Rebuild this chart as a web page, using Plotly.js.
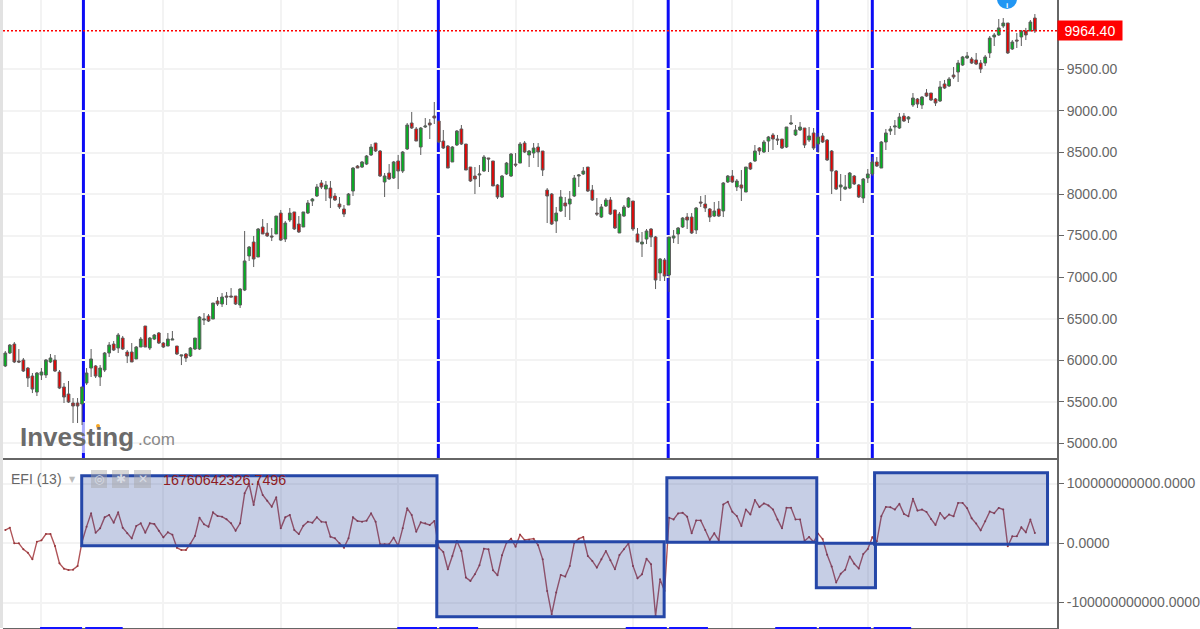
<!DOCTYPE html>
<html>
<head>
<meta charset="utf-8">
<script src="https://cdn.plot.ly/plotly-3.0.1.min.js"></script>
<style>html,body{margin:0;padding:0;background:#fff;overflow:hidden}#c{width:1200px;height:629px}</style>
</head>
<body>
<div id="c"></div>
<script>
const openPrices = [5930,6086,6194,5990,6002,5905,5809,5616,5821,5821,
5978,6002,5857,5677,5592,5484,5484,5472,5725,5905,
5930,5797,5881,6086,6194,6146,6266,6098,6098,6014,
6158,6411,6146,6254,6327,6206,6170,6242,6170,6050,
6074,6050,6134,6134,6483,6531,6495,6712,6676,6772,
6772,6772,6664,6844,7254,7422,7242,7603,7531,7495,
7519,7771,7458,7687,7784,7639,7603,7771,7916,7976,
8133,8060,8072,7976,7880,7820,7868,8036,8337,8325,
8361,8470,8614,8518,8145,8253,8193,8398,8277,8542,
8855,8783,8566,8807,8855,8939,8879,8638,8578,8386,
8590,8783,8602,8325,8217,8229,8277,8434,8398,8109,
7964,8241,8217,8361,8373,8614,8470,8494,8566,8518,
8048,8000,7675,7796,7892,7880,7976,8217,8241,8325,
8048,7771,7723,7856,7928,7808,7531,7735,7844,7916,
7519,7398,7458,7579,7483,7049,7206,7025,7470,7519,
7603,7723,7723,7567,7904,7880,7820,7735,7820,7796,
8145,8217,8085,8109,8024,8373,8398,8554,8506,8638,
8711,8662,8662,8566,8843,8711,8771,8795,8650,8735,
8602,8699,8650,8518,8277,8085,8060,8072,8217,8109,
7952,8193,8241,8386,8313,8626,8759,8807,8795,8939,
8903,9072,9144,9072,9216,9216,9144,9120,9325,9301,
9433,9469,9553,9638,9626,9614,9577,9577,9698,9891,
9915,10023,10059,9746,9854,9891,9963,9963,10119];
const highPrices = [6110,6194,6218,6134,6026,5917,5845,5857,5905,6014,
6074,6062,5881,5725,5749,5544,5544,5677,5905,6134,
5941,5941,6098,6218,6230,6327,6291,6122,6206,6170,
6279,6411,6279,6315,6339,6218,6327,6351,6170,6062,
6086,6158,6266,6531,6567,6555,6688,6760,6808,6820,
6868,6772,6868,7555,7374,7495,7591,7699,7651,7591,
7735,7808,7675,7832,7784,7735,7784,7928,7952,8121,
8169,8157,8157,8012,7964,7868,8012,8325,8349,8398,
8470,8602,8614,8530,8253,8361,8398,8470,8518,8855,
8988,8807,8807,8915,8903,9108,8879,8771,8590,8578,
8771,8831,8602,8325,8325,8349,8470,8434,8398,8121,
8229,8386,8494,8494,8626,8638,8530,8614,8614,8518,
8072,8012,7844,8048,7964,8036,8229,8241,8325,8325,
8109,7952,7880,7952,7964,7808,7784,7868,7964,7916,
7591,7543,7579,7591,7495,7230,7230,7483,7567,7603,
7723,7771,7771,7844,7976,7988,7832,7904,7916,8145,
8229,8289,8181,8289,8325,8386,8590,8566,8650,8699,
8735,8711,8662,8807,8951,8831,8867,8795,8807,8795,
8735,8735,8662,8530,8289,8241,8229,8265,8229,8121,
8193,8301,8446,8446,8638,8783,8819,8891,8975,8975,
8939,9216,9156,9180,9264,9216,9156,9361,9373,9409,
9529,9614,9662,9710,9650,9698,9614,9674,9903,9939,
10107,10119,10059,9854,9939,9975,10000,10095,10167];
const lowPrices = [5917,6074,5965,5965,5857,5677,5604,5568,5761,5785,
5965,5857,5652,5484,5484,5243,5243,5219,5701,5797,
5785,5689,5857,6038,6110,6086,6122,5965,5978,6014,
6158,6158,6122,6242,6194,6146,6170,6242,6062,5941,
5978,6038,6122,6122,6423,6459,6495,6652,6640,6664,
6760,6664,6628,6832,7194,7121,7242,7519,7483,7434,
7519,7434,7422,7663,7567,7531,7603,7759,7856,7964,
8060,7916,7832,7916,7820,7723,7868,7976,8313,8313,
8349,8458,8506,8205,7964,8169,8181,8060,8253,8530,
8783,8638,8470,8795,8662,8843,8614,8542,8313,8386,
8578,8590,8289,8145,8000,8085,8265,8265,8097,7940,
7952,8229,8205,8325,8373,8494,8325,8434,8325,8217,
7651,7627,7531,7784,7723,7687,7964,8085,8229,8024,
7916,7735,7711,7844,7747,7579,7531,7723,7832,7555,
7422,7242,7398,7362,6856,6953,6953,6820,7410,7398,
7591,7579,7519,7519,7844,7784,7663,7723,7723,7723,
8133,8133,8036,7916,8024,8289,8386,8470,8494,8506,
8530,8590,8542,8554,8831,8699,8759,8554,8626,8530,
8494,8614,8398,8000,8048,7916,8048,8060,8109,7952,
7892,8133,8217,8325,8313,8530,8711,8711,8783,8867,
8855,9048,9036,9024,9168,9120,9060,9108,9264,9289,
9385,9349,9541,9626,9565,9553,9457,9541,9638,9782,
9903,10000,9686,9734,9758,9782,9854,9963,9939];
const closePrices = [6086,6182,5978,5978,5869,5785,5652,5845,5857,6002,
6026,5869,5664,5556,5496,5448,5448,5677,5845,6014,
5809,5905,6086,6182,6122,6303,6134,6050,5978,6158,
6254,6158,6266,6303,6206,6158,6254,6254,6074,6062,
6026,6146,6266,6519,6495,6471,6688,6676,6760,6760,
6760,6676,6856,7194,7362,7218,7579,7519,7495,7483,
7735,7446,7651,7771,7579,7543,7784,7892,7940,8085,
8085,8109,7952,7928,7844,7759,8000,8313,8313,8386,
8458,8566,8518,8217,8217,8181,8386,8277,8506,8831,
8795,8638,8795,8819,8831,8915,8626,8554,8313,8566,
8759,8602,8289,8157,8181,8241,8446,8422,8097,7964,
8217,8373,8482,8349,8602,8506,8518,8554,8506,8289,
7976,7639,7771,7964,7856,7940,8193,8229,8277,8036,
7928,7759,7844,7928,7759,7591,7759,7844,7952,7579,
7422,7422,7555,7483,6965,7218,7013,7483,7495,7591,
7711,7687,7531,7832,7892,7832,7723,7796,7735,8133,
8217,8145,8157,8072,8325,8301,8518,8518,8626,8687,
8662,8650,8554,8807,8855,8771,8807,8590,8699,8554,
8687,8626,8410,8277,8060,8109,8085,8253,8121,7964,
8181,8241,8386,8337,8626,8735,8783,8819,8927,8879,
8927,9156,9084,9168,9180,9132,9096,9289,9276,9385,
9409,9577,9650,9662,9577,9565,9505,9650,9878,9915,
10000,10059,9698,9830,9842,9963,9915,10071,9964.4];
// EFI (13), in billions
const efiBillions = [21.8,25.8,-0.6,-0.6,-10.6,-16.2,-27.5,2.2,4.5,15.1,
15.1,-5,-34.2,-43.1,-45.4,-44.8,-38.7,2.2,27.5,49.9,
17.4,24.6,43.1,47.1,34.2,51.5,25.8,16.2,7.8,28.6,
33,17.4,33,31.9,20.7,9.5,17.9,14,-7.8,-11.8,
-11.8,-1.1,11.8,42.6,31.4,27.5,51.5,45.4,44.3,39.8,
33,20.7,33,83.5,99.2,63.9,103.1,80.7,71.1,61.1,
76.8,24.6,43.1,47.1,21.8,15.1,29.1,35.9,34.2,43.1,
35.9,34.7,10.6,7.8,-0.6,-7.8,7.8,43.1,37,35.9,
37.5,49.9,35.9,-2.2,-2.2,-2.2,9,-4.5,24.6,58.3,
47.1,19,34.7,33,30.2,37,-7.8,-15.1,-44.1,-21.8,
3.4,-13.4,-58.1,-63.7,-52.5,-37.4,-9.5,-10.6,-45.8,-54.2,
-20.7,0.6,7.3,-6.1,14,5,5.6,7.3,-3.9,-27.4,
-80.5,-119.6,-83.2,-53.6,-56.4,-38.5,0.6,7.3,10.1,-21.8,
-30.2,-41.3,-27.4,-13.4,-29.1,-44.1,-20.1,-10.6,-0.6,-38.5,
-59.2,-52.5,-26.3,-35.8,-122.4,-60.9,-80.5,42.5,39.7,49.7,
50.8,44.1,16.2,38,38,21.8,5,16.2,4.5,64.8,
69.3,52.5,45.3,28.5,56.4,48,72.1,60.3,66.5,63.1,
56.4,39.7,24.6,59.2,59.2,39.7,39.7,3.4,10.1,1.7,
15.7,6.7,-19.7,-39.3,-66.3,-51.7,-44.9,-22.5,-34.8,-42.7,
-18.5,-10.1,9.6,2.8,44.9,60.7,60.1,56.2,65.7,48.9,
44.9,74.2,54.5,56.2,52.2,40.4,30.3,50.6,41,47.8,
44.9,67.4,67.4,58.4,41.6,32.6,21.3,36.5,52.8,50,
59,56.2,-5.6,11.2,11.2,26.4,18,39.3,16.76];
const barIndex = openPrices.map((_, i) => i);

const priceTicks = [5000,5500,6000,6500,7000,7500,8000,8500,9000,9500];
const priceTickLabels = ["5000.00","5500.00","6000.00","6500.00","7000.00","7500.00","8000.00","8500.00","9000.00","9500.00"];
const efiTicks = [-100,0,100];
const efiTickLabels = ["-100000000000.0000","0.0000","100000000000.0000"];
const gridBars = [8,35,61,87,113,139,161,191,213];
const eventBars = [17.3,95.9,146.8,179.9,192];
const lastPrice = 9964.40;
const lastPriceLabel = "9964.40";
const efiLegend = "EFI (13)";
const efiReadout = "16760642326.7496";
// annotated EFI zones: start bar, end bar, top, bottom (billions)
const zoneStart = [16.92,95.55,146.5,179.6,192.5];
const zoneEnd = [95.6,145.9,179.7,192.7,230.8];
const zoneTop = [113.1,2.2,109.7,-0.5,118.2];
const zoneBottom = [-4.5,-123.9,1.2,-75.1,-2.2];
// remnants of the time scale at the bottom edge: first and last bar of each dash
const scaleDashStart = [7.7,17.7,86.8,96.1,137.4,147,170.5,180.2,192.3];
const scaleDashEnd = [17,26,95.6,104.7,146.5,155.6,179.7,191.7,200.6];

const W = 1200, H = 629, L = 3, R = 143, T = 0, B = 1;
const pw = W - L - R, ph = H - T - B;
const px = v => (v - L) / pw;
const py = v => 1 - (v - T) / ph;
const FONT = '"Liberation Sans", Arial, sans-serif';

const shapes = [];
// left border
shapes.push({type:'rect',xref:'paper',yref:'paper',x0:px(0),x1:px(3),y0:0,y1:1,fillcolor:'#e2e2e2',line:{width:0},layer:'below'});
// event lines
eventBars.forEach(b => shapes.push({type:'line',xref:'x',yref:'paper',x0:b,x1:b,y0:py(458),y1:1,
  line:{color:'#0c0cf5',width:3},layer:'below'}));
// watermark backing
shapes.push({type:'rect',xref:'paper',yref:'paper',x0:px(18),x1:px(175),y0:py(453),y1:py(422),
  fillcolor:'rgba(255,255,255,0.65)',line:{width:0},layer:'below'});
// last price line
shapes.push({type:'line',xref:'paper',yref:'y',x0:0,x1:1,y0:lastPrice,y1:lastPrice,
  line:{color:'#ff0000',width:1.5,dash:'2px,2px'},layer:'above'});
// zero line
shapes.push({type:'line',xref:'paper',yref:'y2',x0:0,x1:1,y0:0,y1:0,
  line:{color:'#8a8a8a',width:1.2,dash:'6px,5px'},layer:'below'});
// EFI zones
zoneStart.forEach((s,i) => shapes.push({type:'rect',xref:'x2',yref:'y2',x0:s,x1:zoneEnd[i],y0:zoneBottom[i],y1:zoneTop[i],
  fillcolor:'rgba(45,75,160,0.27)',line:{color:'#2547a8',width:3},layer:'above'}));
// toolbar squares
[[91,107],[112,129],[134,151]].forEach(r => shapes.push({type:'rect',xref:'paper',yref:'paper',x0:px(r[0]),x1:px(r[1]),y0:py(488),y1:py(470),
  fillcolor:'rgba(165,165,165,0.45)',line:{width:0},layer:'above'}));
// time-scale dashes
scaleDashStart.forEach((s,i) => shapes.push({type:'line',xref:'x2',yref:'paper',x0:s,x1:scaleDashEnd[i],y0:0,y1:0,
  line:{color:'#1414ff',width:2},layer:'above'}));
// logo dot and info dot
shapes.push({type:'circle',xref:'paper',yref:'paper',x0:px(96),x1:px(100),y0:py(428),y1:py(424),fillcolor:'#f5a623',line:{width:0},layer:'above'});
shapes.push({type:'circle',xref:'paper',yref:'paper',x0:px(997),x1:px(1017),y0:py(9),y1:py(-11),fillcolor:'#2196f3',line:{width:0},layer:'above'});

const annotations = [
  {xref:'paper',yref:'paper',x:px(18),y:py(437),xanchor:'left',yanchor:'middle',showarrow:false,text:'<b>Investing</b>',
   font:{family:FONT,size:26,color:'#6b6b6b'}},
  {xref:'paper',yref:'paper',x:px(136),y:py(439),xanchor:'left',yanchor:'middle',showarrow:false,text:'.com',
   font:{family:FONT,size:17,color:'#8a8a8a'}},
  {xref:'paper',yref:'paper',x:px(1007),y:py(5),xanchor:'center',yanchor:'middle',showarrow:false,text:'<b>i</b>',
   font:{family:FONT,size:8,color:'#fff'},borderpad:0,borderwidth:0},
  {xref:'paper',yref:'y',x:1,y:lastPrice,xanchor:'left',yanchor:'middle',showarrow:false,text:lastPriceLabel,
   bgcolor:'#ff0000',width:64,height:19,borderpad:0,align:'center',font:{family:FONT,size:14,color:'#fff'}},
  {xref:'paper',yref:'paper',x:px(9),y:py(479),xanchor:'left',yanchor:'middle',showarrow:false,text:efiLegend,
   font:{family:FONT,size:14,color:'#666'}},
  {xref:'paper',yref:'paper',x:px(72),y:py(479),xanchor:'center',yanchor:'middle',showarrow:false,text:'▼',
   font:{family:'DejaVu Sans',size:8,color:'#bbb'}},
  {xref:'paper',yref:'paper',x:px(99),y:py(479),xanchor:'center',yanchor:'middle',showarrow:false,text:'◎',
   font:{family:'DejaVu Sans',size:12,color:'#d8dbe4'}},
  {xref:'paper',yref:'paper',x:px(120.5),y:py(479),xanchor:'center',yanchor:'middle',showarrow:false,text:'✱',
   font:{family:'DejaVu Sans',size:12,color:'#d8dbe4'}},
  {xref:'paper',yref:'paper',x:px(142.5),y:py(479),xanchor:'center',yanchor:'middle',showarrow:false,text:'✕',
   font:{family:'DejaVu Sans',size:12,color:'#d8dbe4'}},
  {xref:'paper',yref:'paper',x:px(161),y:py(480),xanchor:'left',yanchor:'middle',showarrow:false,text:efiReadout,
   font:{family:FONT,size:14.3,color:'#8e1c24'}}
];

const traces = [
  {type:'candlestick',x:barIndex,open:openPrices,high:highPrices,low:lowPrices,close:closePrices,
   xaxis:'x',yaxis:'y',whiskerwidth:0,hoverinfo:'skip',
   increasing:{line:{color:'#5c5c5c',width:1},fillcolor:'#00b41e'},
   decreasing:{line:{color:'#5c5c5c',width:1},fillcolor:'#ea0000'}},
  {type:'scatter',mode:'lines+markers',x:barIndex,y:efiBillions,xaxis:'x2',yaxis:'y2',hoverinfo:'skip',
   line:{color:'#b05458',width:1.4},marker:{color:'#98383c',size:2}}
];

const xBase = {range:[-0.51,232.9],tickmode:'array',tickvals:gridBars,showticklabels:false,ticks:'',
  showgrid:true,gridcolor:'#f3f3f3',gridwidth:2,zeroline:false,rangeslider:{visible:false},
  showline:true,linecolor:'#666',linewidth:2};
const yBase = {side:'right',tickmode:'array',showgrid:true,gridcolor:'#f3f3f3',gridwidth:2,zeroline:false,
  ticks:'outside',ticklen:5,tickcolor:'#666',tickwidth:1,showline:true,linecolor:'#666',linewidth:2,
  tickfont:{family:FONT,size:14,color:'#666'}};

Plotly.newPlot('c',traces,{
  width:W,height:H,showlegend:false,hovermode:false,dragmode:false,
  paper_bgcolor:'#fff',plot_bgcolor:'#fff',boxgap:0.14,
  margin:{l:L,r:R,t:T,b:B,pad:0},
  xaxis:Object.assign({},xBase,{anchor:'y'}),
  xaxis2:Object.assign({},xBase,{anchor:'y2'}),
  yaxis:Object.assign({},yBase,{anchor:'x',domain:[py(458),1],range:[4822,10336],tickvals:priceTicks,ticktext:priceTickLabels}),
  yaxis2:Object.assign({},yBase,{anchor:'x2',domain:[0,py(460)],range:[-142.86,139.5],tickvals:efiTicks,ticktext:efiTickLabels}),
  shapes:shapes,annotations:annotations
},{displayModeBar:false,staticPlot:true});
</script>
</body>
</html>
